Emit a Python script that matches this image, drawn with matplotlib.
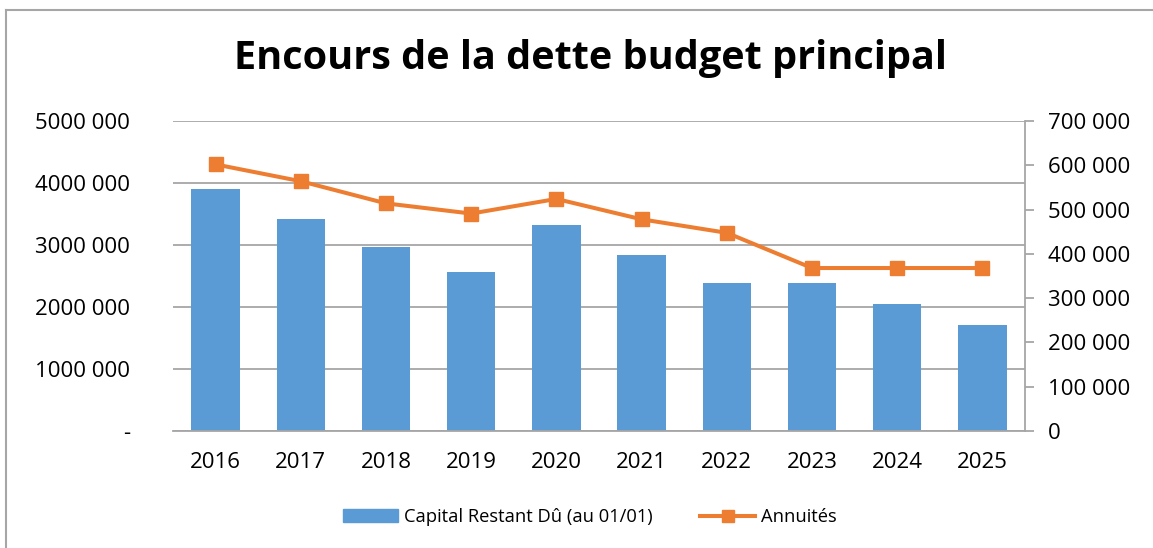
"""Encours de la dette budget principal: capital restant dû (bars) and annuités (line)."""

import matplotlib

matplotlib.use("Agg")
import matplotlib.pyplot as plt
from matplotlib.lines import Line2D
from matplotlib.ticker import FuncFormatter

years = ["2016", "2017", "2018", "2019", "2020", "2021", "2022", "2023", "2024", "2025"]
capital = [3900000, 3420000, 2965000, 2560000, 3315000, 2832000, 2390000, 2385000, 2050000, 1706000]
annuites = [602000, 564000, 514000, 491000, 524000, 478000, 447500, 368000, 368000, 368000]

BLUE = "#5B9BD5"
ORANGE = "#ED7D31"
GRID = "#A6A6A6"
FONT = ["Open Sans", "DejaVu Sans"]

plt.rcParams["font.family"] = FONT


def left_fmt(v, _pos):
    if v == 0:
        return "-"
    m = int(v) // 1000000
    rest = int(v) % 1000000
    return f"{m}{rest // 1000:03d} 000"


def right_fmt(v, _pos):
    if v == 0:
        return "0"
    return f"{int(v) // 1000} 000"


def main() -> None:
    fig = plt.figure(figsize=(11.53, 5.48), dpi=100)
    ax = fig.add_axes([173 / 1153, 1 - 431 / 548, 852 / 1153, 310 / 548])
    ax2 = ax.twinx()

    x = list(range(len(years)))
    ax.bar(x, capital, width=0.57, color=BLUE, zorder=2, label="Capital Restant Dû (au 01/01)")
    ax2.plot(x, annuites, color=ORANGE, lw=2.9, marker="s", ms=10, zorder=3, label="Annuités")

    ax.set_xlim(-0.5, len(years) - 0.5)
    ax.set_ylim(0, 5000000)
    ax.set_yticks(range(0, 5000001, 1000000))
    ax.yaxis.set_major_formatter(FuncFormatter(left_fmt))
    ax2.set_ylim(0, 700000)
    ax2.set_yticks(range(0, 700001, 100000))
    ax2.yaxis.set_major_formatter(FuncFormatter(right_fmt))

    ax.set_xticks(x)
    ax.set_xticklabels(years)
    ax.yaxis.grid(True, color=GRID, lw=1.3, zorder=0)
    ax.set_axisbelow(True)

    for a in (ax, ax2):
        for side in ("top", "left"):
            a.spines[side].set_visible(False)
    ax.spines["right"].set_visible(False)
    ax2.spines["right"].set_color(GRID)
    ax2.spines["right"].set_linewidth(1.3)
    ax.spines["bottom"].set_color(GRID)
    ax.spines["bottom"].set_linewidth(1.3)
    ax2.spines["bottom"].set_visible(False)

    ax.tick_params(axis="x", length=0, pad=15, labelsize=16)
    ax.tick_params(axis="y", length=0, pad=31, labelsize=16)
    ax2.tick_params(axis="y", length=6.5, width=1.3, color=GRID, pad=10, labelsize=16)

    fig.text(0.512, 1 - 69 / 548, "Encours de la dette budget principal",
             ha="center", va="baseline", fontsize=28.5, fontweight="bold")

    handles = [
        plt.Rectangle((0, 0), 1, 1, color=BLUE),
        Line2D([0], [0], color=ORANGE, lw=2.9, marker="s", ms=8),
    ]
    fig.legend(handles, ["Capital Restant Dû (au 01/01)", "Annuités"],
               loc="center", bbox_to_anchor=(590 / 1153, 1 - 517 / 548),
               ncol=2, frameon=False, fontsize=13.2, handlelength=3.0,
               handleheight=0.7, columnspacing=2.6, handletextpad=0.3)

    # chart frame (only the left and top edges fall inside the picture)
    fig.add_artist(Line2D([6 / 1153, 6 / 1153], [0, 1 - 10 / 548],
                          transform=fig.transFigure, color=GRID, lw=1.5))
    fig.add_artist(Line2D([6 / 1153, 1], [1 - 10 / 548, 1 - 10 / 548],
                          transform=fig.transFigure, color=GRID, lw=1.5))

    fig.savefig("out.png", dpi=100)


if __name__ == "__main__":
    main()
